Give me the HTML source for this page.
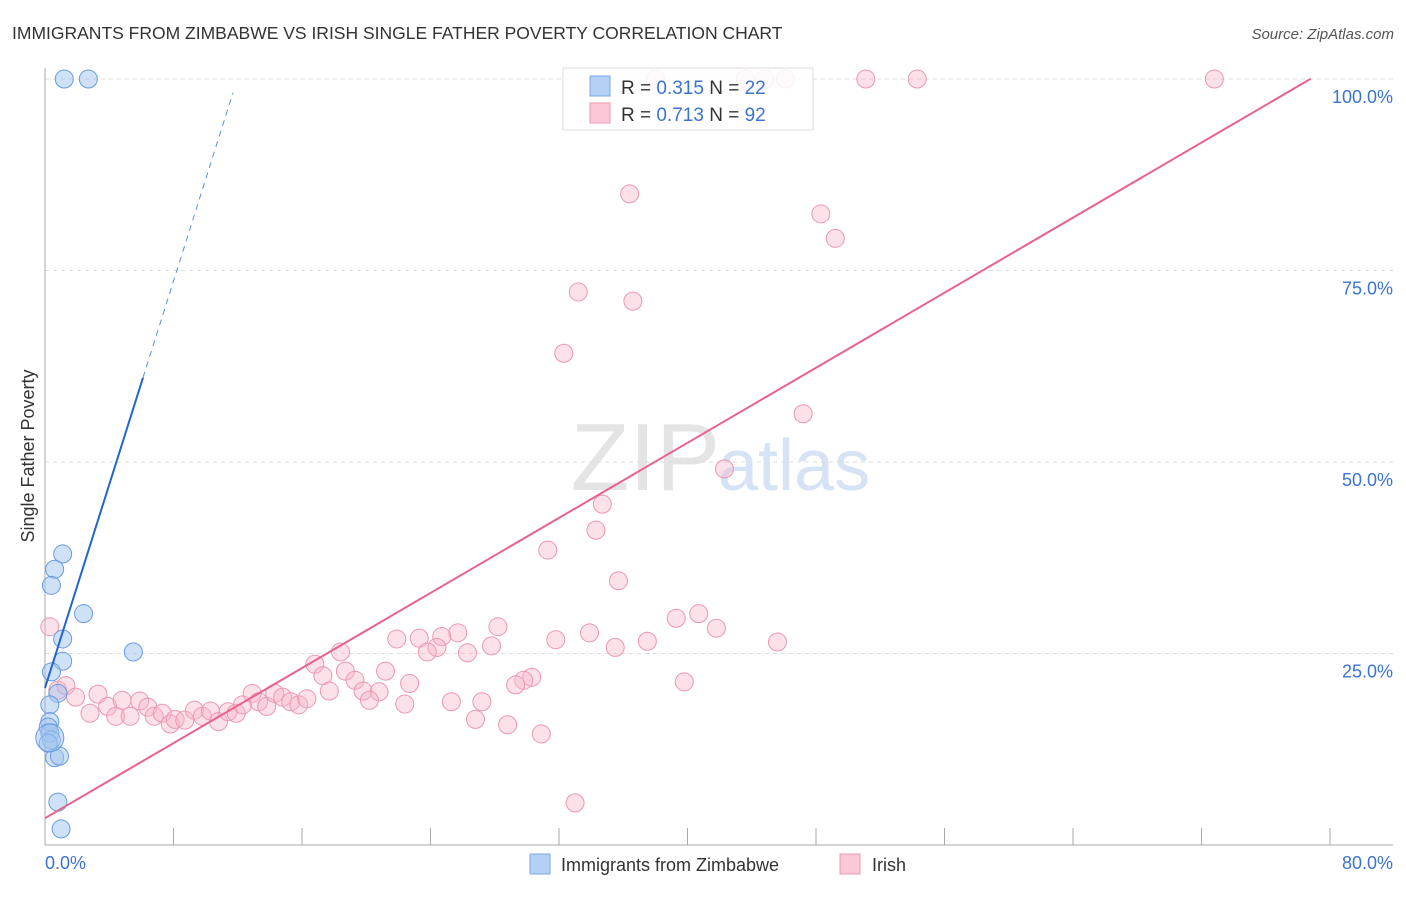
<!DOCTYPE html>
<html><head><meta charset="utf-8"><style>
body{margin:0;background:#fff;font-family:"Liberation Sans",sans-serif;}
svg text{font-family:"Liberation Sans",sans-serif;}
</style></head><body>
<svg id="c" width="1406" height="892">
<text x="12" y="39" font-size="17.5" fill="#333">IMMIGRANTS FROM ZIMBABWE VS IRISH SINGLE FATHER POVERTY CORRELATION CHART</text>
<text x="1394" y="39" font-size="15" fill="#555" font-style="italic" text-anchor="end">Source: ZipAtlas.com</text>
<text x="720" y="490" font-size="96" fill="#e4e4e4" text-anchor="end" font-family="Liberation Serif">ZIP</text>
<text x="718" y="490" font-size="72" fill="#d6e3f5">atlas</text>
<text transform="translate(34,456) rotate(-90)" font-size="18" fill="#333" text-anchor="middle">Single Father Poverty</text>
<g id="grid"></g><g id="pts"></g><g id="lines"></g>
<g>
<rect x="563" y="68" width="250" height="62" fill="#fff" fill-opacity="0.85" stroke="#ddd"/>
<rect x="590" y="76" width="20" height="20" fill="#b5d0f5" stroke="#7aa6e6"/>
<rect x="590" y="103" width="20" height="20" fill="#fac8d6" stroke="#ee9ab2"/>
<text x="621" y="94" font-size="19" fill="#333">R = <tspan fill="#3b73d1">0.315</tspan>   N = <tspan fill="#3b73d1">22</tspan></text>
<text x="621" y="121" font-size="19" fill="#333">R = <tspan fill="#3b73d1">0.713</tspan>   N = <tspan fill="#3b73d1">92</tspan></text>
</g>
<g>
<rect x="530" y="854" width="20" height="20" fill="#b5d0f5" stroke="#7aa6e6"/>
<text x="561" y="871" font-size="18" fill="#333">Immigrants from Zimbabwe</text>
<rect x="840" y="854" width="20" height="20" fill="#fac8d6" stroke="#ee9ab2"/>
<text x="872" y="871" font-size="18" fill="#333">Irish</text>
</g>
</svg>
<script>
const blueX=[1.2,2.7,1.1,0.6,0.4,2.4,1.1,1.1,5.5,0.4,0.8,0.3,0.3,0.2,0.3,0.4,0.2,0.6,0.9,0.8,1.0,0.3];
const blueY=[100,100,38.0,36.0,33.9,30.2,26.9,24.0,25.2,22.6,19.8,18.3,16.1,15.4,14.6,13.7,13.3,11.4,11.6,5.6,2.1,14.0];
const blueR=[9,9,9,9,9,9,9,9,9,9,9,9,9,9,9,9,9,9,9,9,9,14];
const pinkX=[38.0,43.6,44.8,46.1,51.1,54.3,72.8,36.4,48.3,49.2,33.2,36.6,32.3,47.2,42.3,34.7,34.3,31.3,35.7,40.7,39.3,41.8,45.6,37.5,33.9,35.5,31.8,28.2,27.8,25.7,24.7,26.3,23.3,21.9,24.4,23.8,18.4,16.8,21.2,18.7,17.3,19.3,22.7,30.3,29.8,29.3,39.8,17.7,19.8,20.8,20.2,25.3,27.2,22.4,26.8,28.8,30.9,33.0,0.3,0.8,1.3,1.9,3.3,3.9,2.8,4.4,4.8,5.3,5.9,6.4,6.8,7.3,7.8,8.1,8.7,9.3,9.8,10.3,10.8,11.4,11.9,12.3,12.9,13.3,13.8,14.3,14.8,15.3,15.8,16.3];
const pinkY=[100,100,100,100,100,100,100,85.0,82.4,79.2,72.2,71.0,64.2,56.3,49.1,44.5,41.1,38.5,34.5,30.2,29.6,28.3,26.5,26.6,27.7,25.8,26.8,28.5,26.0,27.7,27.2,25.1,27.0,26.9,25.8,25.2,25.2,23.6,22.7,22.7,22.1,21.5,21.1,21.9,21.5,20.9,21.3,20.1,20.1,20.0,18.9,18.7,18.7,18.4,16.4,15.7,14.5,5.5,28.5,20.2,20.8,19.3,19.7,18.1,17.2,16.8,18.9,16.8,18.8,18.0,16.8,17.2,15.8,16.4,16.3,17.6,16.8,17.5,16.1,17.4,17.2,18.3,19.8,18.7,18.1,19.8,19.3,18.7,18.3,19.1];
const xTicks=[0,8,16,24,32,40,48,56,64,72,80];
const yTicks=[25,50,75,100];
const yTickLabels=["25.0%","50.0%","75.0%","100.0%"];
const blueTrend=[20.5,6.64]; // intercept, slope
const pinkTrend=[3.5,1.225];
const X=v=>45+v*(1285/80), Y=v=>845-v*7.66;
const NS="http://www.w3.org/2000/svg";
function mk(p,t,a){const e=document.createElementNS(NS,t);for(const k in a)e.setAttribute(k,a[k]);p.appendChild(e);return e;}
const grid=document.getElementById('grid');
yTicks.forEach((t,i)=>{
 const l=mk(grid,'line',{x1:45,x2:1393,y1:Y(t),y2:Y(t),stroke:'#ddd','stroke-dasharray':'4,4'});
 
 
 const tx=mk(grid,'text',{x:1393,y:Y(t)+24,'font-size':18,fill:'#3b73d1','text-anchor':'end'});tx.textContent=yTickLabels[i];
 
 
});
const ax=mk(grid,'line',{x1:45,x2:45,y1:68,y2:845,stroke:'#aaa'});


const bx=mk(grid,'line',{x1:45,x2:1393,y1:845,y2:845,stroke:'#aaa'});


xTicks.slice(1).forEach(t=>{const l=mk(grid,'line',{x1:X(t),x2:X(t),y1:828,y2:845,stroke:'#aaa'});
 
 });
const x0=mk(grid,'text',{x:45,y:869,'font-size':18,fill:'#3b73d1'});x0.textContent=xTicks[0].toFixed(1)+"%";


const x1=mk(grid,'text',{x:1393,y:869,'font-size':18,fill:'#3b73d1','text-anchor':'end'});x1.textContent=xTicks[xTicks.length-1].toFixed(1)+"%";


const pts=document.getElementById('pts');
pinkX.forEach((v,i)=>{const c=mk(pts,'circle',{cx:X(v),cy:Y(pinkY[i]),r:9,fill:'rgba(248,180,200,0.4)',stroke:'#eb98b0','stroke-width':1});
 
 });
blueX.forEach((v,i)=>{const c=mk(pts,'circle',{cx:X(v),cy:Y(blueY[i]),r:blueR[i],fill:'rgba(160,196,240,0.5)',stroke:'#6a9be0','stroke-width':1});
 
 });
const lines=document.getElementById('lines');
const f=(tr,x)=>tr[0]+tr[1]*x;
const pl=mk(lines,'line',{x1:X(0),y1:Y(f(pinkTrend,0)),x2:X(78.8),y2:Y(f(pinkTrend,78.8)),stroke:'#e8618f','stroke-width':2});


const bl=mk(lines,'line',{x1:X(0),y1:Y(f(blueTrend,0)),x2:X(6.1),y2:Y(f(blueTrend,6.1)),stroke:'#2266cc','stroke-width':2});


const bd=mk(lines,'line',{x1:X(6.1),y1:Y(f(blueTrend,6.1)),x2:X(11.7),y2:Y(f(blueTrend,11.7)),stroke:'#5a8ee0','stroke-width':1,'stroke-dasharray':'6,5'});


</script>
</body></html>
